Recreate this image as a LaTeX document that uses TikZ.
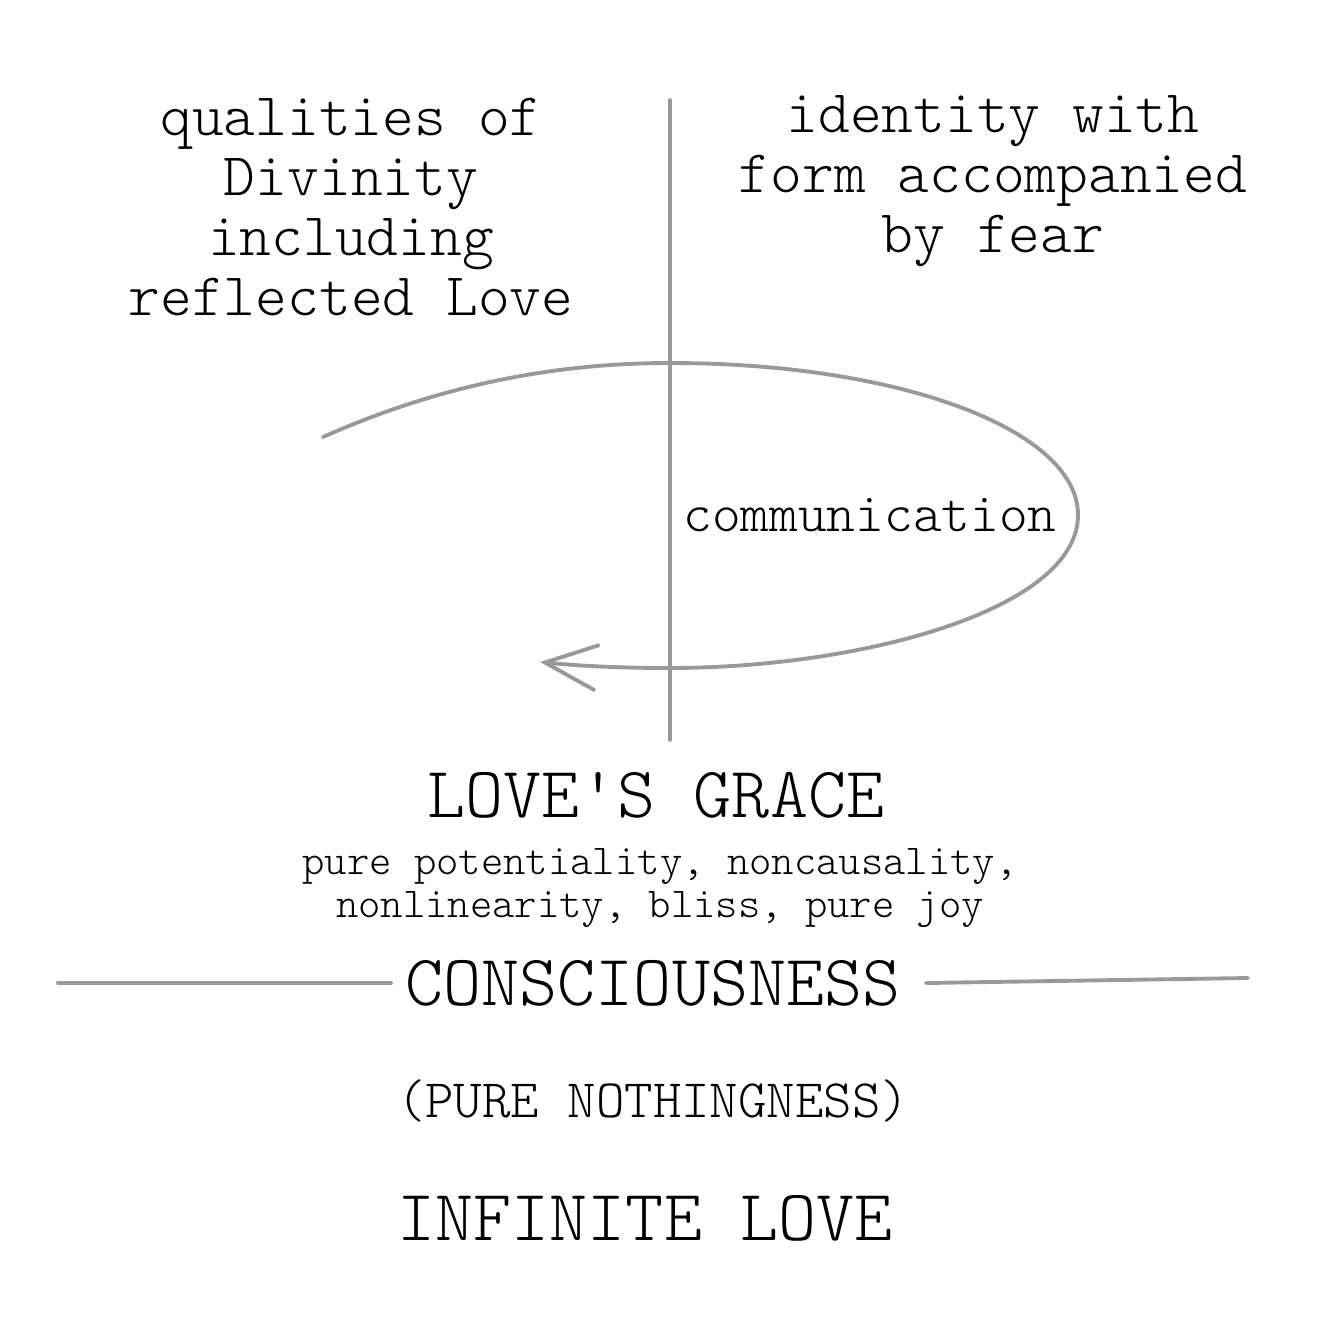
\documentclass[tikz,border=0pt]{standalone}
\usepackage{fontspec}
\setmonofont{Latin Modern Mono Light}
\usepackage{tikz}
\usetikzlibrary{positioning, arrows.meta}

\begin{document}
\begin{tikzpicture}[
  x=0.01cm, y=-0.01cm,
  pencil/.style={draw=black!40, line width=1.1pt, line cap=round},
  head/.style={font=\ttfamily\fontsize{17.2}{17.1}\selectfont, align=center, inner sep=0pt},
  big/.style={font=\ttfamily\fontsize{20.6}{22}\selectfont, inner sep=0pt},
  small/.style={font=\ttfamily\fontsize{12.1}{12.5}\selectfont, align=center, inner sep=0pt},
  mid/.style={font=\ttfamily\fontsize{15.4}{16}\selectfont, inner sep=0pt}
]
  \useasboundingbox (0,0) rectangle (1324,1324);

  \node[head] (divine) at (351,207)
        {qualities of\\Divinity\\including\\reflected Love};
  \node[head] (form)   at (993,181)
        {identity with\\form accompanied\\by fear};

  \coordinate (axtop) at (670,100);
  \coordinate (axbot) at (670,740);
  \draw[pencil] (axtop) -- (axbot);

  \coordinate (loopstart) at (323,437);
  \coordinate (looptop)   at (670,363);
  \coordinate (loopright) at (1078,515);
  \coordinate (loopbot)   at (670,668);
  \coordinate (loopend)   at (540,662);
  \draw[pencil, -{Straight Barb[length=15pt, width=13pt]}]
    (loopstart) .. controls (440,385) and (555,363) .. (looptop)
    .. controls (900,363) and (1078,430) .. (loopright)
    .. controls (1078,610) and (860,668) .. (loopbot)
    .. controls (620,668) and (580,666) .. (loopend);

  \node[mid, font=\ttfamily\fontsize{15.55}{16}\selectfont] (comm) at (870,515) {communication};

  \node[big]   (grace)  at (656,795) {LOVE\textquotesingle S GRACE};
  \node[small] (pure)   at (660,888)
        {pure potentiality, noncausality,\\nonlinearity, bliss, pure joy};
  \node[big]   (consc)  at (653,983) {CONSCIOUSNESS};
  \node[mid]   (nothing) at (653,1101) {(PURE NOTHINGNESS)};
  \node[big]   (inflove) at (645,1218) {INFINITE LOVE};

  \coordinate (leftend)  at (58,983);
  \coordinate (rightend) at (1248,978);
  \draw[pencil] (leftend) -- ([xshift=-0.14cm]consc.west);
  \draw[pencil] ([xshift=0.25cm]consc.east) -- (rightend);
\end{tikzpicture}
\end{document}
